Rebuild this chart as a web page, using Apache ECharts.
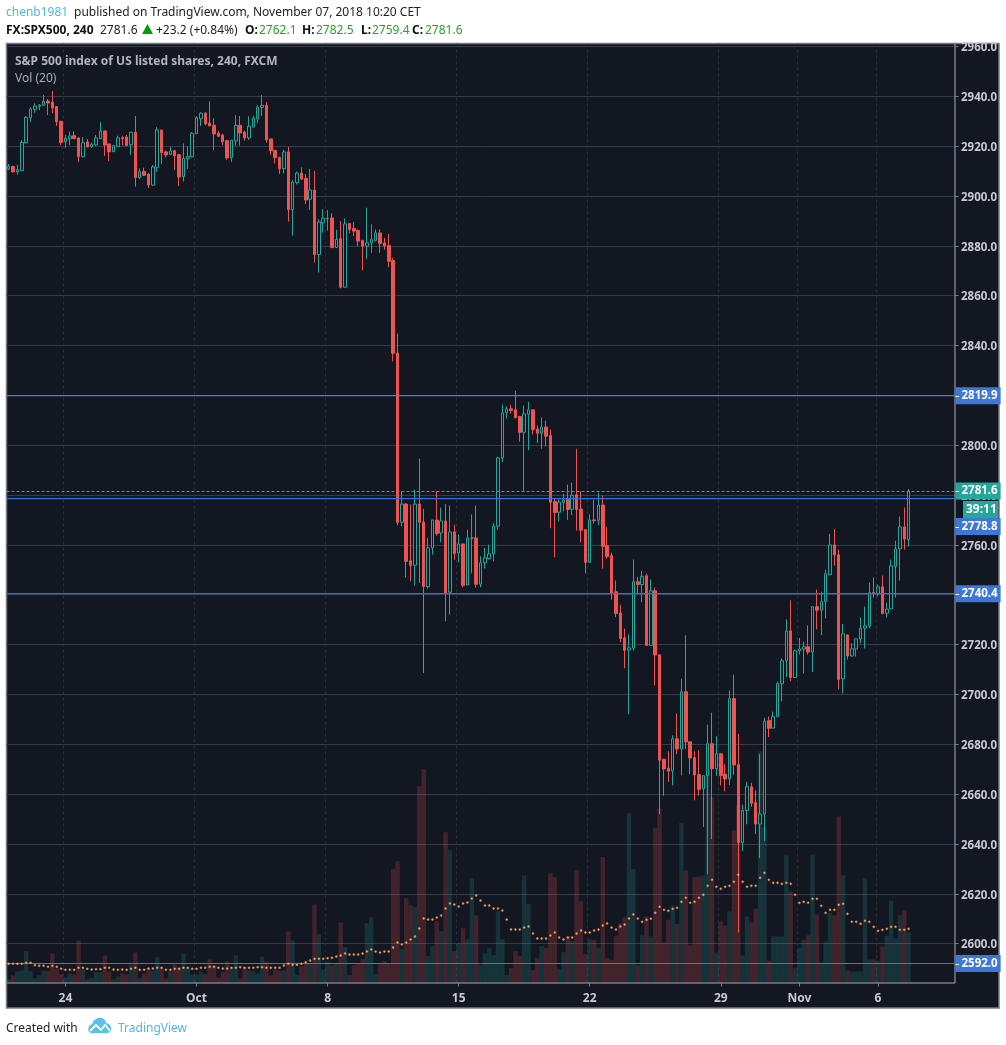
<!DOCTYPE html>
<html><head><meta charset="utf-8"><title>FX:SPX500</title>
<style>html,body{margin:0;padding:0;background:#fff}#c{width:1006px;height:1045px}</style>
<script src="https://cdn.jsdelivr.net/npm/echarts@6/dist/echarts.min.js"></script></head>
<body><div id="c"></div><script>
const opens=[2910.9,2911.8,2909.7,2910.2,2921.4,2931.4,2934.8,2936,2936.4,2938.1,
2937.7,2935.9,2930,2921.8,2923,2924.2,2923.3,2915.8,2921.7,2919.8,
2920.5,2923,2926.1,2920.9,2917.8,2919.8,2923.4,2923.7,2920.6,2925.6,
2907.4,2909.9,2908.8,2904.4,2911.5,2926.5,2917.7,2916.6,2918.2,2916.6,
2907.8,2915,2915.8,2925,2931,2933.3,2929.3,2928.4,2925.2,2924.5,
2922.2,2915.4,2922.1,2928.4,2925.7,2923.3,2927.7,2931,2935.5,2936.4,
2922.9,2918.3,2915.5,2911,2917.7,2894.5,2905.4,2909.2,2907.1,2898.7,
2902.4,2876.5,2889.3,2890.9,2891.2,2879.3,2882.9,2863.4,2889,2887,
2886.2,2882.1,2879.9,2881.2,2882.1,2885.2,2881.2,2880.1,2874.1,2837,
2769.1,2776.4,2753.6,2751.8,2776.4,2769.2,2743.3,2758.8,2770,2764.8,
2769.6,2741,2765.2,2756.8,2760.4,2743.9,2762.7,2762.8,2744.2,2752.8,
2754.5,2756.4,2767.5,2794.9,2813,2814.6,2814.2,2811.5,2805.2,2812.4,
2814.2,2806.5,2804.8,2807.3,2803.9,2777.4,2773.1,2777.1,2778.2,2774.3,
2780.1,2774.4,2766.1,2753,2770,2769.9,2776,2759.7,2755.7,2741.2,
2732.7,2722.7,2717.8,2718.6,2745.2,2744.1,2747.6,2719.7,2741.6,2715.9,
2674,2670.4,2669.3,2682.2,2678.1,2701.1,2681,2674.6,2667.8,2662.2,
2667.4,2680.2,2670.2,2676.2,2668,2666.2,2698.3,2671.8,2640.6,2653.4,
2663,2656.6,2648,2652,2689.5,2686.5,2691.1,2704.3,2713.5,2725.5,
2706.8,2717.5,2718.2,2719.1,2717,2735.2,2733.8,2737.2,2748.1,2760,
2756,2706.3,2723.9,2715.4,2718.2,2722.2,2726.6,2727.4,2740.9,2740.5,
2743.2,2732.6,2734.3,2751.4,2758.4,2767.2,2762.1];
const closes=[2911.8,2909.7,2910.5,2921.5,2931.6,2934.9,2936.1,2936.5,2938,2937.3,
2935.3,2929.8,2921.5,2923.2,2924.1,2923,2915.8,2921.4,2919.7,2920.7,
2923.3,2926.1,2920.5,2917.7,2920.2,2923.3,2923,2920.3,2925.6,2907.4,
2909.8,2908.3,2904.4,2911.7,2926.5,2917.4,2916.5,2918.1,2916.1,2907.6,
2915.1,2915.9,2925.2,2931.4,2933.2,2928.9,2928.1,2924.9,2924,2921.8,
2915.3,2922.4,2928.4,2925.3,2923.3,2928,2931.3,2935.6,2936.4,2922.5,
2918.2,2915.4,2910.9,2917.7,2894.5,2905.6,2909.2,2906.8,2898.4,2902.4,
2876.5,2889.6,2891.1,2891.1,2879.3,2882.6,2863.4,2888.8,2886.6,2885.9,
2881.9,2879.9,2881.2,2882.5,2885.2,2880.9,2879.9,2873.8,2836.9,2769,
2776.4,2753.4,2751.8,2776.4,2769.1,2743.3,2758.8,2770,2764.5,2769.6,
2740.7,2765.2,2756.6,2760.4,2743.8,2762.8,2762.8,2744.2,2752.8,2754.8,
2756.4,2767.6,2794.9,2813,2814.6,2813.9,2811.1,2805.2,2812.6,2814.2,
2806.3,2804.8,2807.3,2803.6,2777.1,2773,2777.2,2778,2774.2,2779.9,
2774.2,2765.9,2753,2770,2769.7,2776,2759.4,2755.3,2740.7,2732.5,
2722.4,2717.7,2718.7,2745.2,2744.1,2747.4,2719.7,2741.6,2715.8,2673.6,
2670.1,2669.2,2682.2,2678.1,2701.1,2680.9,2674.5,2667.7,2661.9,2667.4,
2680.2,2670.2,2676.2,2667.5,2666.1,2698.3,2671.7,2640.6,2653.4,2663,
2656.3,2648,2652,2689.3,2686.4,2691.1,2704.3,2713.5,2725.4,2706.8,
2717.5,2718.3,2719.1,2717,2735.2,2733.8,2737.2,2748.4,2760,2755.9,
2706,2724.3,2715.4,2718.3,2722.3,2726.6,2727.5,2740.8,2740.5,2743.2,
2732.5,2734.2,2751.6,2758.4,2767.2,2762.3,2781.6];
const lows=[2910.5,2909.4,2908.6,2910.1,2921.1,2929.8,2933.4,2934.5,2936.1,2932.5,
2933.2,2928.1,2920.5,2919.3,2920.5,2923,2913.7,2915.5,2919.5,2919.4,
2920.2,2922.9,2916.1,2914.1,2917.7,2919.8,2920.3,2920.3,2916.5,2903.8,
2906.7,2908,2903.2,2904.2,2909.7,2912.9,2915.5,2916.5,2910.5,2904,
2905.8,2910.9,2915.5,2924.9,2928.1,2928.5,2928.1,2918.5,2923.6,2920.5,
2914.5,2913.7,2920.2,2920.2,2922.2,2922.5,2927.6,2929.2,2932.1,2921.4,
2916.5,2913.1,2908.8,2909.1,2889.7,2884.1,2904.7,2906.4,2896.8,2894.4,
2873.3,2869.3,2885.3,2886.1,2879.3,2879.3,2862.9,2863.4,2885,2883.9,
2879.9,2870.2,2874.8,2877.2,2882,2877.2,2878.5,2871.4,2833.7,2767.9,
2767.5,2746.9,2745.4,2743.8,2744.7,2708.6,2742.5,2756.1,2763.7,2761.1,
2729.3,2732,2754.1,2753,2743,2743.9,2748.6,2742.9,2743,2750.5,
2754.1,2753.4,2766.1,2793.2,2810.7,2812.7,2810.7,2801.5,2781.3,2798,
2804.3,2800.9,2798.6,2799.5,2766.7,2755,2769.5,2773.5,2770.1,2771.9,
2765.7,2761.1,2748.6,2753,2768.5,2767.9,2750.5,2754.5,2738,2731,
2720.9,2710.5,2692,2717.6,2740.5,2737,2719.4,2719.4,2703.6,2652,
2659.3,2664.9,2663.5,2676,2667.5,2678,2668,2657.5,2659.3,2646.8,
2627.9,2641.9,2667.3,2663.5,2661.1,2663.7,2667.7,2604.5,2637.2,2647.9,
2654.9,2644,2634.3,2641.2,2682.9,2686.3,2691.1,2697.2,2707,2705.4,
2706.6,2716,2708.4,2716,2709,2726.1,2723.8,2730.5,2747.8,2751.7,
2702,2700.4,2714,2715.2,2715.2,2720.5,2718.5,2726.5,2738.9,2739.3,
2732.1,2730.9,2734.2,2738.9,2745.7,2758.1,2759.4];
const highs=[2912.9,2912.2,2912.5,2922.5,2932.1,2935.6,2937.2,2936.9,2940.5,2938.9,
2942.1,2936.1,2930.1,2924.5,2925.8,2926.1,2923.6,2923.6,2922.9,2921.5,
2924.5,2929.7,2926.1,2920.9,2920.5,2924.2,2924.2,2924.5,2925.7,2932.1,
2911.1,2911.4,2909.1,2912.5,2927.6,2926.5,2918.2,2919.8,2918.5,2916.9,
2921.1,2919.8,2925.6,2932,2933.6,2933.6,2938,2931.2,2926.2,2924.9,
2922.5,2922.5,2932.4,2932.1,2926.2,2932,2932.2,2936.4,2940.5,2937.7,
2922.9,2918.5,2915.8,2918.5,2919.7,2906.4,2909.8,2911.5,2908.8,2910.9,
2910.1,2890.7,2894.7,2894.4,2893.1,2886.4,2889.9,2891,2889,2889.6,
2886.6,2882.5,2895.3,2888.6,2886.6,2886.6,2883.2,2884.8,2875.2,2844.8,
2781.5,2776.8,2776.2,2782.2,2794.6,2774.4,2762.8,2770,2781.5,2775,
2776.4,2775.8,2768.1,2764.1,2760.4,2766.1,2772.2,2775.8,2755.4,2758.8,
2760.1,2768.8,2795.4,2816.3,2815.6,2816.3,2821.9,2811.8,2815.9,2817.4,
2814.2,2807.9,2811.1,2809.9,2806.3,2778.6,2778.2,2780.5,2784.2,2785,
2798.6,2781.5,2766.1,2772.2,2778.2,2781,2779.8,2767.2,2756.9,2745.7,
2736,2726.4,2724.1,2754.1,2747.2,2749.6,2748.5,2746.1,2742.9,2715.9,
2674.2,2677.2,2683.6,2692.4,2706.3,2723.7,2681,2677.2,2677.6,2667.4,
2687.9,2692.7,2683.2,2676.2,2672,2701.6,2707.9,2684.2,2655.8,2665,
2664.6,2661.5,2676,2690.7,2691.1,2693.1,2705.2,2714.4,2730.1,2737.7,
2718,2722.7,2721.1,2727.7,2735.2,2742.1,2741.2,2750.1,2764.4,2766.4,
2758.1,2728.3,2723.9,2720.5,2722.3,2730.9,2735.3,2744.9,2746.9,2744.1,
2747.7,2736.8,2754.1,2761.7,2771.4,2775,2782.5];
const volumes=[3.3,7,11.3,12,31.3,11,4,7.3,12,11.3,
29,13.3,8.3,5.3,9.3,8,42,13.7,3,4.7,
10.3,10.3,27,11,3,6,9,8,18,30,
4.3,8.7,14,11.3,25,14.3,4,11.3,18,15.3,
29,15.3,7.7,7.7,10.7,8.3,23,17.3,5,10.7,
21,14.7,27,4,14.7,12,11,9,26,20.7,
7,13,11.7,12,51,42,7.7,16,18.7,18.7,
78,48,13,20.3,17,18.7,60,35.3,7.3,17.3,
18.3,23.3,59.3,65.3,8.3,18.3,21.3,18.3,113.3,121.3,
33.3,84.3,77.3,75.3,196.3,213.3,26.3,36.3,61.3,51.3,
150.3,132.3,31.3,39.3,54.3,43.3,104.3,67.3,17.3,29.3,
34.3,27.3,71.3,43.3,7.3,14.3,31.3,26.3,107.3,78.3,
12.3,24.3,36.3,34.3,109.3,105.3,13.3,30.3,46.3,41.3,
112.3,81.3,28.3,43.3,42.3,34.3,125.3,24.3,22.3,46.3,
59.3,65.3,169.3,113.3,17.3,47,66,46,154.3,173.7,
40,62.7,77,58.7,159.7,112,37,105.3,106,107,
232.7,185.3,30,61,56.7,71,152,177,27,66,
60,73.7,231,155.3,22,46,46,46,127,91,
14.3,34.7,42.7,47,127.7,68,20,41,69.3,67,
166,107,12,11,11,11,104,23,23,22,
36,47,82,44,67,72,50];
const volumeMA=[18.7,18.7,18.7,18.7,19.7,19.7,17.3,16.7,16.7,15.7,
16.7,15.7,13.7,12.7,12.7,12.7,14.7,14.7,13.7,13,
13.3,13.3,14.7,14.7,13,12.7,13,12.7,13.7,14.7,
12.7,12.7,14,14,14.7,14.7,12.7,12.7,13.7,13.7,
14.7,14.7,13.7,13.7,14.7,14.7,15.7,15.7,14.7,14,
14,14.7,14.7,15.3,14.7,14.7,14.7,15.3,15.3,14.7,
14.7,14.7,14.7,17,18.7,17.7,17.7,18.7,20.3,22,
23.7,23.7,23.7,24.3,24.7,26,27,29,28,28,
28,29,31,33,31,30,31,31,35,40,
38,40,43,46,54,64,63,63,65,67,
74,79,78,76,79,80,84,87,82,77,
77,74,74,72,63,53,53,53,55,56,
49,44,44,44,47,50,45,43,45,45,
49,52,50,50,52,53,57,59,55,53,
56,58,64,68,64,60.7,62.7,63.7,69.7,75.7,
72.7,71.7,73.7,74.7,80.7,84.7,79.7,80.7,84.7,87.7,
96.7,102.7,95.7,93.7,95.7,96.7,100.7,107.7,100.7,95.7,
96.7,96.7,104.7,109.7,102.7,99.7,99.7,98.7,99.7,98.7,
87.7,79.7,80.7,79.7,83.7,83.7,76.7,69.7,72.7,72.7,
77.7,78.7,68.7,60.7,60.7,58.7,61.7,60.7,55.7,51.7,
52.7,53.7,55.7,55.7,52.7,52.7,53.7];
const dateTicks={13:'24',43:'Oct',73:'8',103:'15',133:'22',163:'29',181:'Nov',199:'6'};
const priceTicks=[2600,2620,2640,2660,2680,2700,2720,2740,2760,2780,2800,2820,2840,2860,2880,2900,2920,2940,2960];
const blueLevels=[2819.9,2778.8,2740.4,2592.0];
const lastPrice=2781.6;
const slotCount=217;

const UP='#26a69a',DOWN='#ef5350',BG='#131722',BLUE='#3d78d8',AXIS='#787b86',TXT='#c9cbd1';
const FONT='"Noto Sans",sans-serif';
const categories=[];for(let i=0;i<slotCount;i++)categories.push(dateTicks[i]||'');
const showTick=(i,v)=>v!=='';
const candleData=opens.map((o,i)=>[o,closes[i],lows[i],highs[i]]);
const volData=volumes.map((v,i)=>({value:v,itemStyle:{color:closes[i]>=opens[i]?'rgba(38,166,154,0.2)':'rgba(239,83,80,0.22)'}}));
const tag=(color,extra)=>Object.assign({show:true,position:'end',distance:1,formatter:p=>p.value.toFixed(1),color:'#fff',fontFamily:FONT,fontSize:11.5,fontWeight:'bold',backgroundColor:color,padding:[3,3,2,6]},extra||{});
const markData=[
 {yAxis:blueLevels[0],lineStyle:{color:'#4a7fdc',width:1.25,type:'solid'},label:tag(BLUE)},
 {yAxis:blueLevels[1],lineStyle:{color:'#2f6fe0',width:1.25,type:'solid'},label:tag(BLUE,{offset:[0,28.5]})},
 {yAxis:blueLevels[2],lineStyle:{color:'#2f6fe0',width:1.25,type:'solid'},label:tag(BLUE)},
 {yAxis:blueLevels[3],lineStyle:{color:BLUE,width:1,type:'solid'},label:tag(BLUE)},
 {yAxis:lastPrice,lineStyle:{color:UP,width:1,type:[3,2]},label:tag(UP)}
];
const t=(text,x,y,font,fill)=>({type:'text',z:50,silent:true,style:{text,x,y:y+1.5,font,fill,textVerticalAlign:'middle'}});
const F='12px '+FONT,FB='bold 12px '+FONT,GREEN='#22a722',INK='#222';
const chart=echarts.init(document.getElementById('c'));
chart.setOption({
 animation:false,backgroundColor:'#fff',
 grid:{left:6.5,top:43.5,width:948,height:939,containLabel:false},
 xAxis:{type:'category',data:categories,boundaryGap:true,
  axisLine:{lineStyle:{color:AXIS,width:1.5}},
  axisTick:{show:true,alignWithLabel:true,interval:showTick,length:4,lineStyle:{color:AXIS}},
  axisLabel:{interval:showTick,color:TXT,fontFamily:FONT,fontSize:12,fontWeight:'bold',margin:10},
  splitLine:{show:true,interval:showTick,lineStyle:{color:'#2a2e39',type:[3,3],width:1}}},
 yAxis:[
  {type:'value',position:'right',min:2584.4,max:2961.2,scale:true,
   axisLine:{show:true,lineStyle:{color:AXIS,width:1.5}},
   axisTick:{show:true,length:4,customValues:priceTicks,lineStyle:{color:AXIS}},
   axisLabel:{customValues:priceTicks,formatter:v=>v.toFixed(1),color:TXT,fontFamily:FONT,fontSize:11.5,fontWeight:'bold',margin:6.5,verticalAlign:'top',lineHeight:3},
   splitLine:{show:true,lineStyle:{color:'#373b47',width:1}}},
  {type:'value',min:0,max:939,show:false,splitLine:{show:false}}
 ],
 series:[
  {name:'Volume',type:'bar',yAxisIndex:1,data:volData,barWidth:'100%',z:1,silent:true},
  {name:'SPX500',type:'candlestick',data:candleData,barWidth:3,z:3,silent:true,
   itemStyle:{color:BG,color0:DOWN,borderColor:UP,borderColor0:DOWN,borderWidth:1},
   markLine:{silent:true,symbol:'none',precision:1,z:4,data:markData}},
  {name:'Vol MA',type:'scatter',yAxisIndex:1,data:volumeMA,symbol:'circle',symbolSize:2,z:5,silent:true,
   itemStyle:{color:'#ffd0a0',borderColor:'rgba(255,130,50,0.7)',borderWidth:0.8}}
 ],
 graphic:{elements:[
  {type:'rect',z:-10,silent:true,shape:{x:6.5,y:43.5,width:992.5,height:964.5},style:{fill:BG,stroke:AXIS,lineWidth:1.5}},
  t('chenb1981',6,11,F,'#4fb6e8'),
  t('published on TradingView.com, November 07, 2018 10:20 CET',74,11,F,INK),
  t('FX:SPX500, 240',6,29,FB,'#111'),
  t('2781.6',100,29,F,INK),
  {type:'polygon',z:50,silent:true,shape:{points:[[142,34],[153,34],[147.5,24]]},style:{fill:'#00a000'}},
  t('+23.2 (+0.84%)',156,29,F,INK),
  t('O:',245,29,FB,'#111'),t('2762.1',259,29,F,GREEN),
  t('H:',302,29,FB,'#111'),t('2782.5',316,29,F,GREEN),
  t('L:',361,29,FB,'#111'),t('2759.4',372,29,F,GREEN),
  t('C:',412,29,FB,'#111'),t('2781.6',425,29,F,GREEN),
  t('S&P 500 index of US listed shares, 240, FXCM',15,60,FB,'#b2b5be'),
  t('Vol (20)',15,77,F,'#a8abb4'),
  {type:'rect',z:50,silent:true,shape:{x:963,y:501,width:35,height:17},style:{fill:UP}},
  t('39:11',966,508,FB,'#fff'),
  t('Created with',6,1027,F,INK),
  {type:'polygon',z:50,silent:true,shape:{points:[[88,1030],[89,1026],[92,1024],[94,1020],[98,1018],[102,1018],[105,1020],[106,1023],[109,1024],[111,1027],[111,1031],[108,1033],[91,1033],[89,1032]]},style:{fill:'#59c0e8'}},
  {type:'polyline',z:51,silent:true,shape:{points:[[90,1031],[96,1025],[101,1030],[105,1025],[110,1031]]},style:{stroke:'#fff',lineWidth:1.8,fill:null}},
  t('TradingView',118,1027,F,'#4fb6e8')
 ]}
});
// little white ticks inside the price tags, placed through the axis scale
const tagTicks=[[blueLevels[0],0],[blueLevels[1],28.5],[blueLevels[2],0],[blueLevels[3],0],[lastPrice,0]].map(([v,off],i)=>{
 const y=Math.round(chart.convertToPixel({yAxisIndex:0},v)+off)+0.5;
 return {id:'tagTick'+i,type:'line',z:60,silent:true,shape:{x1:955.5,y1:y,x2:959,y2:y},style:{stroke:'#fff',lineWidth:1}};
});
chart.setOption({graphic:{elements:tagTicks}});
</script></body></html>
